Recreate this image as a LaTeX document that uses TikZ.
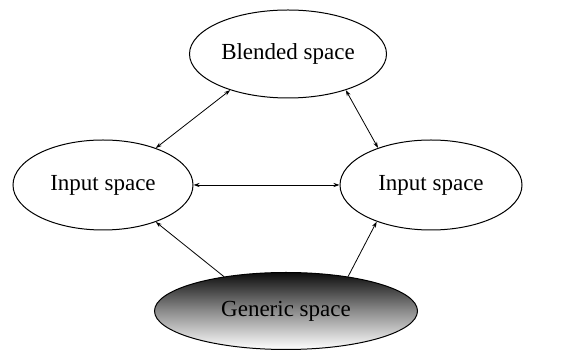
\documentclass[tikz,border=0pt]{standalone}
\usepackage{fontspec}
\setmainfont{Liberation Serif}
\usetikzlibrary{shapes.geometric,arrows.meta}
\begin{document}
\begin{tikzpicture}[x=1pt,y=1pt,
  space/.style={ellipse,draw=black,line width=1pt,inner sep=0pt,font=\fontsize{23}{27}\selectfont},
  link/.style={line width=0.8pt,{Stealth[length=6pt,width=4pt]}-{Stealth[length=6pt,width=4pt]}},
  onelink/.style={line width=0.8pt,-{Stealth[length=6pt,width=4pt]}}]
\useasboundingbox (0,0) rectangle (568,361);
\node[space,minimum width=197pt,minimum height=88pt] (blend) at (288,307) {Blended space};
\node[space,minimum width=180pt,minimum height=90pt] (left) at (103,176) {Input space};
\node[space,minimum width=182pt,minimum height=90pt] (right) at (431,176) {Input space};
\node[space,minimum width=263pt,minimum height=77pt,top color=black!95,bottom color=white,middle color=black!45] (gen) at (286,50) {Generic space};
\draw[link] (blend.212) -- (left.35);
\draw[link] (blend.328) -- (right.145);
\draw[link] (left.east) -- (right.west);
\draw[onelink] (gen.151) -- (left.325);
\draw[onelink] (gen.29) -- (right.214);
\end{tikzpicture}
\end{document}
